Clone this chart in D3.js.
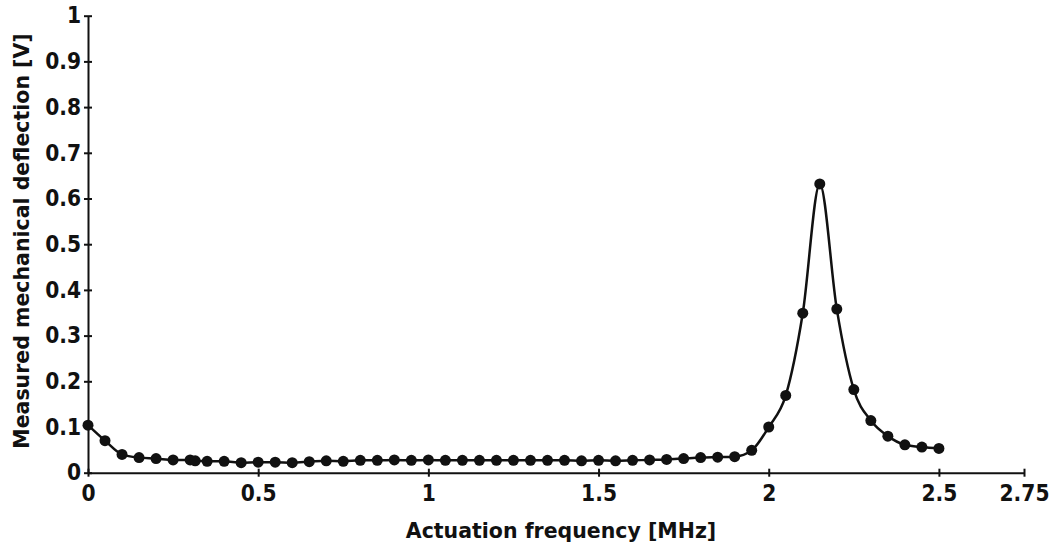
<!DOCTYPE html>
<html>
<head>
<meta charset="utf-8">
<script src="https://cdn.jsdelivr.net/npm/d3@7"></script>
<style>
  body { margin: 0; background: #fff; }
  svg { display: block; }
  .axis text { font-family: 'DejaVu Sans Condensed', 'DejaVu Sans', sans-serif; font-stretch: condensed; font-weight: bold; font-size: 22.5px; fill: #111; }
  .axis path, .axis line { stroke: #111; stroke-width: 2; }
  .title { font-family: 'DejaVu Sans', sans-serif; font-weight: bold; font-size: 20.5px; fill: #111; }
</style>
</head>
<body>
<div id="chart"></div>
<script>
// measured frequency sweep (MHz) and deflection (V)
const freq = [0, 0.05, 0.1, 0.15, 0.2, 0.25, 0.3, 0.315, 0.35, 0.4, 0.45, 0.5, 0.55, 0.6, 0.65, 0.7,
  0.75, 0.8, 0.85, 0.9, 0.95, 1.0, 1.05, 1.1, 1.15, 1.2, 1.25, 1.3, 1.35, 1.4, 1.45, 1.5, 1.55, 1.6,
  1.65, 1.7, 1.75, 1.8, 1.85, 1.9, 1.95, 2.0, 2.05, 2.1, 2.15, 2.2, 2.25, 2.3, 2.35, 2.4, 2.45, 2.5];
const deflection = [0.104, 0.070, 0.040, 0.033, 0.031, 0.028, 0.028, 0.026, 0.025, 0.025, 0.022, 0.023,
  0.023, 0.022, 0.024, 0.026, 0.025, 0.027, 0.027, 0.028, 0.027, 0.028, 0.027, 0.027, 0.027, 0.027,
  0.027, 0.027, 0.027, 0.027, 0.026, 0.027, 0.026, 0.027, 0.028, 0.029, 0.031, 0.033, 0.034, 0.035,
  0.049, 0.100, 0.169, 0.349, 0.632, 0.358, 0.182, 0.114, 0.080, 0.061, 0.056, 0.053];

const xTicks = [0, 0.5, 1, 1.5, 2, 2.5, 2.75];
const yTicks = [0, 0.1, 0.2, 0.3, 0.4, 0.5, 0.6, 0.7, 0.8, 0.9, 1];

const width = 1055;
const height = 548;
const margin = { top: 15.7, right: 31, bottom: 75.3, left: 88 };

const data = freq.map((f, i) => ({ f, v: deflection[i] }));

const svg = d3.select('#chart').append('svg')
  .attr('width', width)
  .attr('height', height);

const xScale = d3.scaleLinear()
  .domain([0, 2.75])
  .range([margin.left, width - margin.right]);

const yScale = d3.scaleLinear()
  .domain([0, 1])
  .range([height - margin.bottom, margin.top]);

// axes with ticks crossing the line
const xAxis = svg.append('g')
  .attr('class', 'axis')
  .attr('transform', `translate(0, ${yScale(0)})`)
  .call(d3.axisBottom(xScale).tickValues(xTicks).tickFormat(d3.format('~g'))
    .tickSizeInner(4).tickSizeOuter(0).tickPadding(8));
xAxis.selectAll('.tick line').attr('y1', -4);

const yAxis = svg.append('g')
  .attr('class', 'axis')
  .attr('transform', `translate(${xScale(0)}, 0)`)
  .call(d3.axisLeft(yScale).tickValues(yTicks).tickFormat(d3.format('~g'))
    .tickSizeInner(4).tickSizeOuter(0).tickPadding(3));
yAxis.selectAll('.tick line').attr('x1', 4);

// titles
svg.append('text')
  .attr('class', 'title')
  .attr('x', 561)
  .attr('y', 538)
  .attr('text-anchor', 'middle')
  .text('Actuation frequency [MHz]');

svg.append('text')
  .attr('class', 'title')
  .attr('transform', 'translate(29, 241) rotate(-90)')
  .attr('text-anchor', 'middle')
  .text('Measured mechanical deflection [V]');

// curve + markers
const line = d3.line()
  .x((d) => xScale(d.f))
  .y((d) => yScale(d.v))
  .curve(d3.curveMonotoneX);

svg.append('path')
  .datum(data)
  .attr('fill', 'none')
  .attr('stroke', '#111')
  .attr('stroke-width', 2.5)
  .attr('d', line);

svg.append('g')
  .selectAll('circle')
  .data(data)
  .join('circle')
  .attr('cx', (d) => xScale(d.f))
  .attr('cy', (d) => yScale(d.v))
  .attr('r', 5.5)
  .attr('fill', '#111');
</script>
</body>
</html>
